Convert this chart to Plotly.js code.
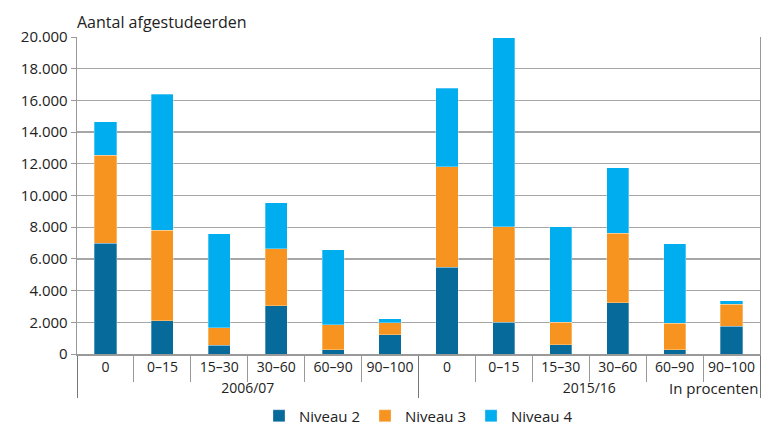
<!DOCTYPE html>
<html><head><meta charset="utf-8">
<script src="https://cdn.plot.ly/plotly-3.0.1.min.js"></script>
<style>body{margin:0;background:#fff}#c{width:764px;height:428px}</style>
</head><body><div id="c"></div>
<script>
const years = ["2006/07","2006/07","2006/07","2006/07","2006/07","2006/07","2015/16","2015/16","2015/16","2015/16","2015/16","2015/16"];
const cats = ["0","0–15","15–30","30–60","60–90","90–100","0","0–15","15–30","30–60","60–90","90–100"];
const niveau2 = [6980, 2100, 550, 3060, 270, 1200, 5470, 2000, 570, 3220, 270, 1740];
const niveau3 = [5570, 5700, 1100, 3570, 1565, 780, 6330, 6040, 1430, 4400, 1660, 1390];
const niveau4 = [2100, 8600, 5950, 2900, 4745, 250, 4960, 11920, 6020, 4130, 5035, 235];
const seriesNames = ["Niveau 2","Niveau 3","Niveau 4"];
const colors = ["#066a9b","#f6941f","#00adee"];
const x = [years, cats];
const data = [niveau2, niveau3, niveau4].map((v,i)=>({
  type:"bar", x:x, y:v, name:seriesNames[i],
  marker:{color:colors[i], line:{color:"rgba(255,255,255,0.6)", width:0.5}},
  hoverinfo:"skip"
}));
const ff = "Open Sans, sans-serif";
const layout = {
  width:764, height:428,
  margin:{l:77, r:4, t:37, b:74},
  barmode:"stack", bargap:0.61,
  separators:",.",
  font:{family:ff, size:14, color:"#222"},
  paper_bgcolor:"#fff", plot_bgcolor:"#fff",
  showlegend:true,
  legend:{orientation:"h", x:0.5, xanchor:"center", yref:"container", y:0.028, yanchor:"middle",
    font:{family:ff, size:15, color:"#222"}, traceorder:"normal", itemwidth:30},
  xaxis:{type:"multicategory", showline:true, linecolor:"#999", linewidth:1.5, automargin:false,
    ticks:"outside", tickson:"boundaries", ticklen:26, tickcolor:"#999", tickwidth:1,
    showdividers:true, dividercolor:"#777", dividerwidth:1,
    tickfont:{family:ff, size:14, color:"#222"}, showgrid:false},
  yaxis:{range:[0,20000], dtick:2000, tickformat:",d", showgrid:true, gridcolor:"#a6a6a6", gridwidth:1.3,
    showline:true, linecolor:"#999", linewidth:1.3, mirror:true, zeroline:false, automargin:false,
    ticks:"outside", ticklen:5, tickcolor:"#999",
    tickfont:{family:ff, size:15, color:"#222"}},
  annotations:[
    {text:"Aantal afgestudeerden", xref:"paper", yref:"paper", x:-0.003, y:1.047, xanchor:"left", yanchor:"middle",
     showarrow:false, font:{family:ff, size:16, color:"#222"}},
    {text:"In procenten", xref:"paper", yref:"paper", x:1.0, y:-0.108, xanchor:"right", yanchor:"middle",
     showarrow:false, font:{family:ff, size:15, color:"#222"}}
  ]
};
Plotly.newPlot("c", data, layout, {displayModeBar:false, staticPlot:true});
</script></body></html>
